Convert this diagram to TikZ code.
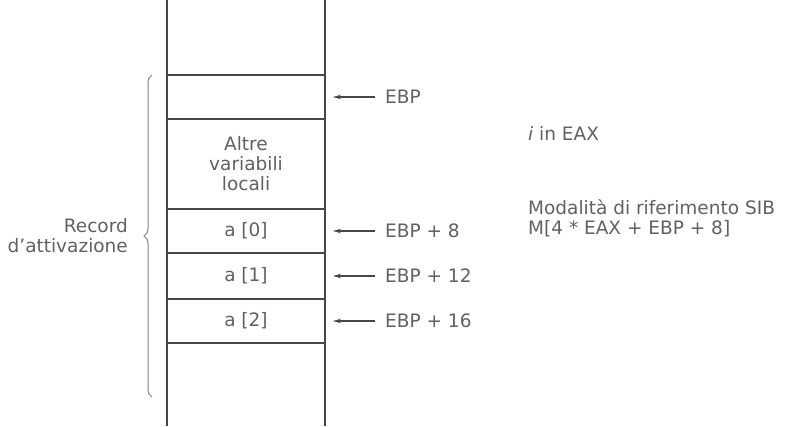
\documentclass[tikz,border=0pt]{standalone}
\usepackage{fontspec}
\setmainfont{DejaVu Sans}
\usetikzlibrary{arrows.meta, positioning, decorations.pathreplacing}
\definecolor{inkgray}{gray}{0.28}
\definecolor{txtgray}{gray}{0.38}

\begin{document}
\begin{tikzpicture}[x=1pt, y=-1pt, font=\fontsize{18.5}{20}\selectfont,
    cell/.style={draw=inkgray, line width=2pt, rectangle, minimum width=158pt,
      inner sep=0pt, outer sep=0pt, anchor=north, text=txtgray, align=center},
    ptr/.style={inkgray, line width=1.2pt, -{Stealth[length=8pt, width=4.5pt]}},
    lbl/.style={anchor=west, text=txtgray, inner sep=0pt}]
    \useasboundingbox (0,0) rectangle (793,426);

    % stack walls
    \coordinate (wallTL) at (167,0);
    \coordinate (wallBL) at (167,426);
    \coordinate (wallTR) at (325,0);
    \coordinate (wallBR) at (325,426);
    \draw[inkgray, line width=2pt] (wallTL) -- (wallBL);
    \draw[inkgray, line width=2pt] (wallTR) -- (wallBR);

    % cells of the activation record
    \node[cell, minimum height=44pt] (cTop) at (246,75) {};
    \node[cell, minimum height=90pt, below=0pt of cTop] (cLoc) {Altre\\variabili\\locali};
    \node[cell, minimum height=44pt, below=0pt of cLoc] (cA0) {a [0]};
    \node[cell, minimum height=46pt, below=0pt of cA0] (cA1) {a [1]};
    \node[cell, minimum height=44pt, below=0pt of cA1] (cA2) {a [2]};

    % pointers into the frame
    \node[lbl, right=60pt of cTop] (ebp) {EBP};
    \node[lbl, right=60pt of cA0] (ebp8) {EBP + 8};
    \node[lbl, right=60pt of cA1] (ebp12) {EBP + 12};
    \node[lbl, right=60pt of cA2] (ebp16) {EBP + 16};
    \draw[ptr] ([xshift=-10pt]ebp.west) -- ([xshift=8pt]cTop.east);
    \draw[ptr] ([xshift=-10pt]ebp8.west) -- ([xshift=8pt]cA0.east);
    \draw[ptr] ([xshift=-10pt]ebp12.west) -- ([xshift=8pt]cA1.east);
    \draw[ptr] ([xshift=-10pt]ebp16.west) -- ([xshift=8pt]cA2.east);

    % brace for the record
    \coordinate (brBot) at (152,397);
    \coordinate (brTop) at (152,75);
    \draw[inkgray!70, line width=1pt, decorate,
      decoration={brace, amplitude=8pt}] (brBot) -- (brTop);
    \node[anchor=east, text=txtgray, align=right, inner sep=0pt] (rec) at (128,236)
      {Record\\d'attivazione};

    % notes on the right
    \node[lbl] (idx) at (528,133) {\textit{i} in EAX};
    \node[lbl, align=left] (sib) at (528,218) {Modalità di riferimento SIB\\M[4 * EAX + EBP + 8]};
\end{tikzpicture}
\end{document}
